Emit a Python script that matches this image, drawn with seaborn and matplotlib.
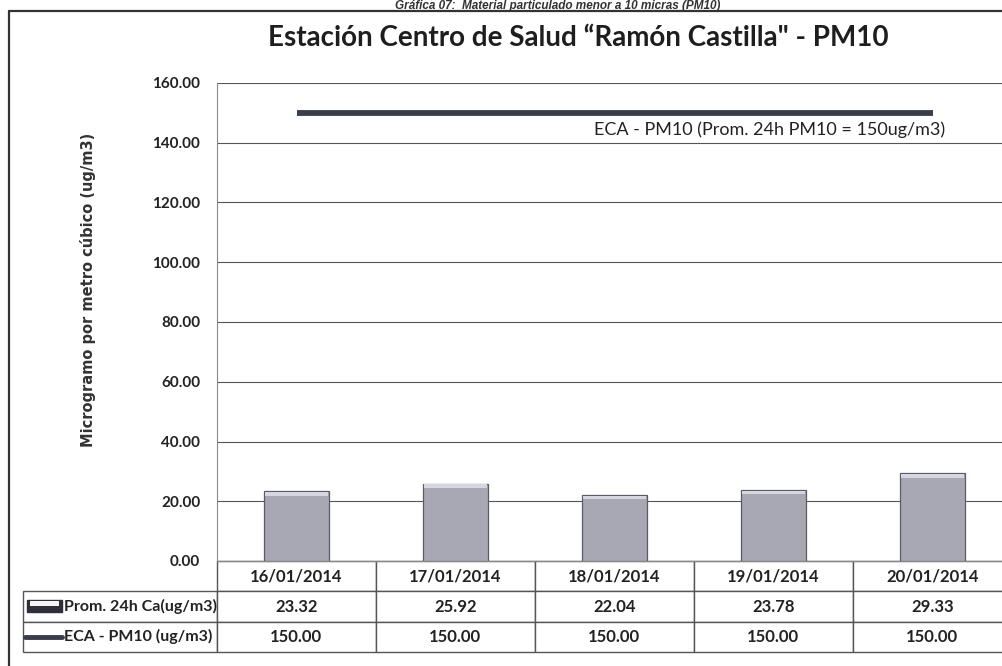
import matplotlib
matplotlib.use("Agg")
import matplotlib.pyplot as plt
import seaborn as sns
import pandas as pd
from matplotlib.patches import Rectangle
from matplotlib.lines import Line2D

# data
fechas = ["16/01/2014", "17/01/2014", "18/01/2014", "19/01/2014", "20/01/2014"]
prom_24h = [23.32, 25.92, 22.04, 23.78, 29.33]
eca_pm10 = [150.00, 150.00, 150.00, 150.00, 150.00]
y_ticks = [0, 20, 40, 60, 80, 100, 120, 140, 160]
fila_labels = ["Prom. 24h Ca(ug/m3)", "ECA - PM10 (ug/m3)"]

df = pd.DataFrame({"fecha": fechas, "prom": prom_24h, "eca": eca_pm10})

sns.set_style("white")
plt.rcParams["font.family"] = ["Lato", "DejaVu Sans"]

W, H = 1003, 666
fig = plt.figure(figsize=(W / 100, H / 100), dpi=100)
ax = fig.add_axes([217 / W, 1 - 561 / H, 795 / W, 478 / H])

sns.barplot(data=df, x="fecha", y="prom", color="#a7a8b4", width=0.41,
            edgecolor="#5c5c68", linewidth=0.9, saturation=1, ax=ax, zorder=3)
# soft bevel just under the top edge of each bar
for p in list(ax.patches):
    ax.add_patch(Rectangle((p.get_x() + 0.006, p.get_height() - 1.4),
                           p.get_width() - 0.012, 1.2, facecolor="#d6d6de",
                           lw=0, zorder=4))
ax.plot(range(len(fechas)), df["eca"], color="#3a3d4a", lw=4.2,
        solid_capstyle="butt", zorder=4)
ax.text(4.08, 144.3, "ECA - PM10 (Prom. 24h PM10 = 150ug/m3)", ha="right",
        va="center", fontsize=13, color="#222222", zorder=5)

ax.set_xlim(-0.5, 4.5)
ax.set_ylim(0, 160)
ax.set_yticks(y_ticks)
ax.set_yticklabels([f"{v:.2f}" for v in y_ticks], fontsize=11,
                   fontweight="bold", color="#222222")
ax.tick_params(axis="y", length=0, pad=12)
ax.set_xticks([])
ax.set_xlabel("")
ax.set_ylabel("")
ax.grid(axis="y", color="#555555", lw=0.8, zorder=0)
for s in ["top", "right"]:
    ax.spines[s].set_visible(False)
ax.spines["left"].set_color("#8a8a8a")
ax.spines["bottom"].set_color("#8a8a8a")

fig.text(88 / W, 1 - 290 / H, "Microgramo por metro cúbico (ug/m3)",
         rotation=90, ha="center", va="center", fontsize=10.5,
         fontweight="bold", color="#333333", family=["DejaVu Sans"])

# data table under the chart
cell_text = [[""] + fechas,
             [fila_labels[0]] + [f"{v:.2f}" for v in prom_24h],
             [fila_labels[1]] + [f"{v:.2f}" for v in eca_pm10]]
tbl = ax.table(cellText=cell_text, cellLoc="center",
               colWidths=[194] + [159] * 5,
               bbox=[(22.7 - 217) / 795, -91 / 478, 989 / 795, 91 / 478])
tbl.auto_set_font_size(False)
for (r, c), cell in tbl.get_celld().items():
    cell.set_edgecolor("#555555")
    cell.set_linewidth(1.0)
    cell.get_text().set_fontsize(12)
    cell.get_text().set_fontweight("bold")
    cell.get_text().set_color("#222222")
    if r == 0 and c == 0:
        cell.set_visible(False)
    if c == 0:
        cell.get_text().set_ha("left")
        cell._loc = "left"
        cell.PAD = (64 - 22.7) / 194
        cell.get_text().set_fontsize(11.5)

# legend symbols in the table
tr = fig.transFigure
fig.patches.append(Rectangle((27 / W, 1 - 612 / H), 35 / W, 12 / H,
                             transform=tr, facecolor="#2e2f38",
                             edgecolor="#2e2f38"))
fig.patches.append(Rectangle((30 / W, 1 - 606 / H), 29 / W, 5 / H,
                             transform=tr, facecolor="#f4f4f4", lw=0))
fig.lines.append(Line2D([25 / W, 62 / W], [1 - 637 / H, 1 - 637 / H],
                        transform=tr, color="#3a3d4a", lw=3.5))

# outer frame and caption above it
fig.lines.append(Line2D([9 / W, 9 / W], [0, 1 - 11 / H], transform=tr,
                        color="#333333", lw=1.6))
fig.lines.append(Line2D([9 / W, 1], [1 - 11 / H, 1 - 11 / H], transform=tr,
                        color="#333333", lw=1.6))
fig.text(558 / W, 1 - 9 / H,
         "Gráfica 07:  Material particulado menor a 10 micras (PM10)",
         ha="center", va="baseline", fontsize=8.5, fontweight="bold",
         fontstyle="italic", color="#333333",
         family=["Liberation Sans", "DejaVu Sans"])

fig.text(578 / W, 1 - 38 / H,
         "Estación Centro de Salud “Ramón Castilla\" - PM10",
         ha="center", va="center", fontsize=20, fontweight="bold",
         color="#1e1e1e")

fig.savefig("out.png", dpi=100)
